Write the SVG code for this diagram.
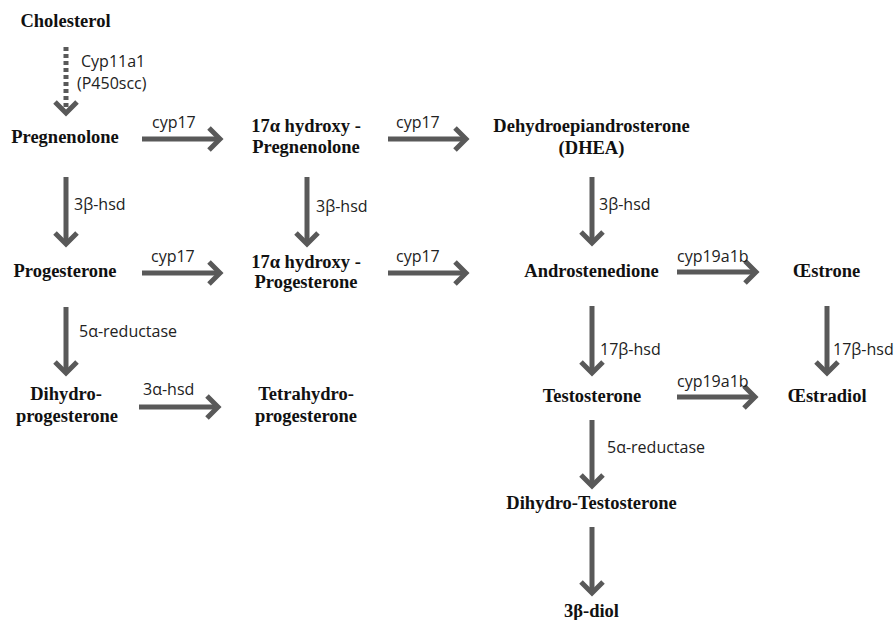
<svg xmlns="http://www.w3.org/2000/svg" width="894" height="620" viewBox="0 0 894 620">
<style>
.n{font-family:"Liberation Serif","Times New Roman",serif;font-weight:bold;font-size:18.5px;fill:#111;text-anchor:middle}
.l{font-family:"Open Sans","Noto Sans",sans-serif;font-size:16px;fill:#222}
.a{stroke:#595959;stroke-width:5;fill:none;marker-end:url(#ah)}
.d{stroke-dasharray:4 3}
</style>
<defs>
<marker id="ah" markerUnits="userSpaceOnUse" markerWidth="30" markerHeight="30" viewBox="-15 -15 30 30" refX="0" refY="0" orient="auto" overflow="visible">
<path d="M-11,-11 L0,0 L-11,11" fill="none" stroke="#595959" stroke-width="5"/>
</marker>
</defs>
<rect width="894" height="620" fill="#fff"/>
<g id="connectors">
<line class="a d" x1="66" y1="47" x2="66" y2="113"/>
<line class="a" x1="142" y1="139" x2="220" y2="139"/>
<line class="a" x1="388" y1="139" x2="466" y2="139"/>
<line class="a" x1="66" y1="177" x2="66" y2="244"/>
<line class="a" x1="307" y1="177" x2="307" y2="244"/>
<line class="a" x1="592" y1="177" x2="592" y2="243"/>
<line class="a" x1="142" y1="273" x2="220" y2="273"/>
<line class="a" x1="388" y1="273" x2="466" y2="273"/>
<line class="a" x1="677" y1="272" x2="756" y2="272"/>
<line class="a" x1="66" y1="307" x2="66" y2="373"/>
<line class="a" x1="592" y1="306" x2="592" y2="373"/>
<line class="a" x1="827" y1="306" x2="827" y2="373"/>
<line class="a" x1="139" y1="407" x2="218" y2="407"/>
<line class="a" x1="677" y1="397" x2="755" y2="397"/>
<line class="a" x1="592" y1="420" x2="592" y2="486"/>
<line class="a" x1="592" y1="527" x2="592" y2="593"/>
<text class="l" x="81" y="67">Cyp11a1</text>
<text class="l" x="77" y="89">(P450scc)</text>
<text class="l" x="152" y="128">cyp17</text>
<text class="l" x="396" y="128">cyp17</text>
<text class="l" x="74" y="210">3β-hsd</text>
<text class="l" x="316" y="212">3β-hsd</text>
<text class="l" x="599" y="210">3β-hsd</text>
<text class="l" x="151" y="262">cyp17</text>
<text class="l" x="396" y="262">cyp17</text>
<text class="l" x="677" y="262">cyp19a1b</text>
<text class="l" x="79" y="337">5α-reductase</text>
<text class="l" x="600" y="355">17β-hsd</text>
<text class="l" x="833" y="355">17β-hsd</text>
<text class="l" x="143" y="395">3α-hsd</text>
<text class="l" x="677" y="387">cyp19a1b</text>
<text class="l" x="607" y="453">5α-reductase</text>
</g>
<g id="cholesterol"><text class="n" x="65.5" y="27">Cholesterol</text></g>
<g id="pregnenolone"><text class="n" x="65" y="143">Pregnenolone</text></g>
<g id="hydroxy-pregnenolone"><text class="n" x="306" y="132">17α hydroxy -</text><text class="n" x="306" y="153">Pregnenolone</text></g>
<g id="dhea"><text class="n" x="591.5" y="132">Dehydroepiandrosterone</text><text class="n" x="591.5" y="154">(DHEA)</text></g>
<g id="progesterone"><text class="n" x="65" y="277">Progesterone</text></g>
<g id="hydroxy-progesterone"><text class="n" x="306" y="268">17α hydroxy -</text><text class="n" x="306" y="288">Progesterone</text></g>
<g id="androstenedione"><text class="n" x="591.5" y="277">Androstenedione</text></g>
<g id="oestrone"><text class="n" x="826.5" y="277">Œstrone</text></g>
<g id="dihydroprogesterone"><text class="n" x="66" y="400">Dihydro-</text><text class="n" x="67" y="422">progesterone</text></g>
<g id="tetrahydroprogesterone"><text class="n" x="306" y="400">Tetrahydro-</text><text class="n" x="306" y="422">progesterone</text></g>
<g id="testosterone"><text class="n" x="592" y="402">Testosterone</text></g>
<g id="oestradiol"><text class="n" x="827" y="402">Œstradiol</text></g>
<g id="dihydrotestosterone"><text class="n" x="591.5" y="509">Dihydro-Testosterone</text></g>
<g id="diol"><text class="n" x="591.5" y="617">3β-diol</text></g>
</svg>
